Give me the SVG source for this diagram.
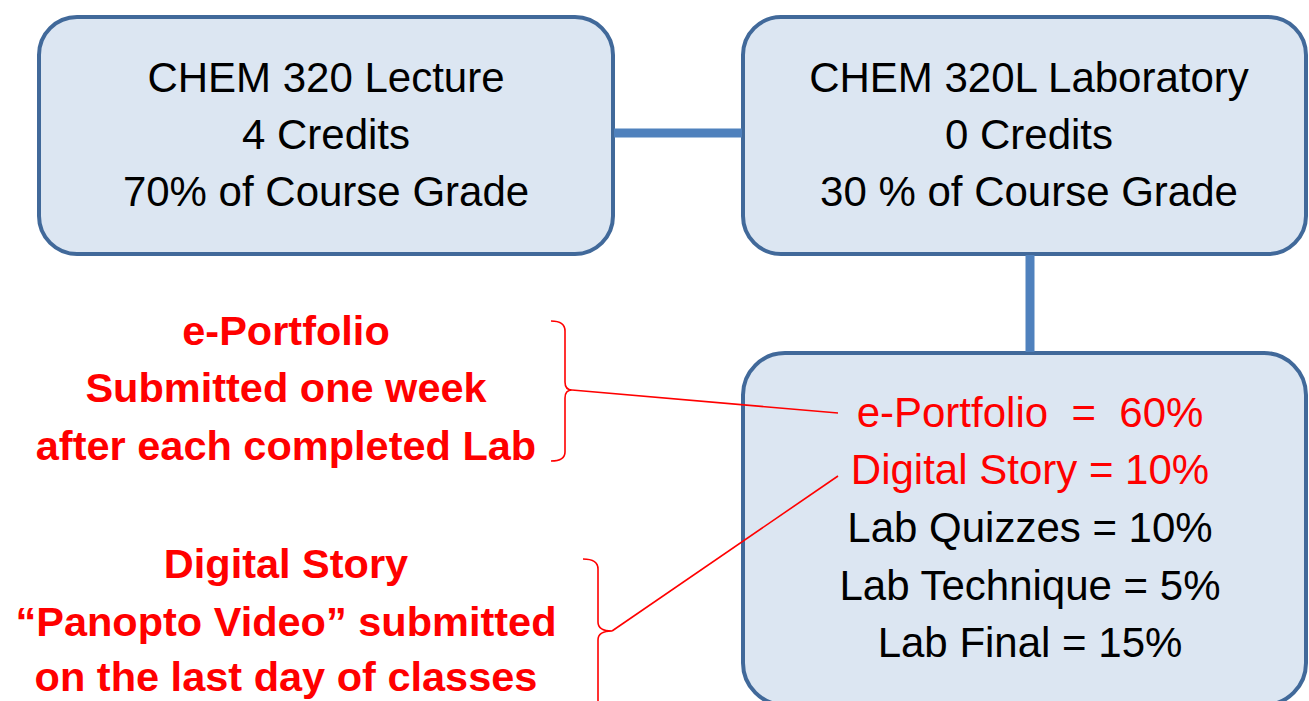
<svg xmlns="http://www.w3.org/2000/svg" width="1309" height="701" viewBox="0 0 1309 701">
  <style>
    .box { fill: #DCE6F2; stroke: #41699A; stroke-width: 4; }
    .link { stroke: #4F81BD; stroke-width: 9; fill: none; }
    .callout { stroke: #FF0000; stroke-width: 1.6; fill: none; }
    .t { font-family: "Liberation Sans", Arial, sans-serif; font-size: 42px; text-anchor: middle; fill: #000; }
    .red { fill: #FF0000; }
    .note { font-family: "Liberation Sans", Arial, sans-serif; font-size: 41.5px; font-weight: bold; text-anchor: middle; fill: #FF0000; }
  </style>
  <rect width="1309" height="701" fill="#FFFFFF"/>

  <g id="lecture">
    <rect class="box" x="39" y="17" width="574" height="237" rx="38"/>
    <text class="t" x="326" y="92">CHEM 320 Lecture</text>
    <text class="t" x="326" y="149">4 Credits</text>
    <text class="t" x="326" y="206">70% of Course Grade</text>
  </g>

  <g id="laboratory">
    <rect class="box" x="743" y="17" width="563" height="237" rx="38"/>
    <text class="t" x="1029" y="92">CHEM 320L Laboratory</text>
    <text class="t" x="1029" y="149">0 Credits</text>
    <text class="t" x="1029" y="206">30 % of Course Grade</text>
  </g>

  <g id="breakdown">
    <rect class="box" x="743" y="353" width="563" height="352" rx="42"/>
    <text class="t red" x="1030" y="427" xml:space="preserve">e-Portfolio  =  60%</text>
    <text class="t red" x="1030" y="484">Digital Story = 10%</text>
    <text class="t" x="1030" y="542">Lab Quizzes = 10%</text>
    <text class="t" x="1030" y="600">Lab Technique = 5%</text>
    <text class="t" x="1030" y="657">Lab Final = 15%</text>
  </g>

  <g id="eportfolio-note">
    <text class="note" x="286" y="345">e-Portfolio</text>
    <text class="note" x="286" y="402">Submitted one week</text>
    <text class="note" x="286" y="460">after each completed Lab</text>
  </g>

  <g id="digital-story-note">
    <text class="note" x="286" y="578">Digital Story</text>
    <text class="note" x="286" y="636">“Panopto Video” submitted</text>
    <text class="note" x="286" y="691">on the last day of classes</text>
  </g>

  <!-- connectors: box links, then brackets with callout lines into the breakdown box -->
  <g id="connectors">
    <line class="link" x1="614" y1="133" x2="742" y2="133"/>
    <line class="link" x1="1030" y1="255" x2="1030" y2="352"/>
    <path class="callout" d="M551,321 Q565,321 565,331 L565,382 Q565,390 572,390 Q565,390 565,398 L565,452 Q565,461 551,461"/>
    <line class="callout" x1="572" y1="390" x2="838" y2="413"/>
    <path class="callout" d="M583,559 Q598,559 598,569 L598,622 Q598,631 612,631 Q598,631 598,640 L598,705"/>
    <line class="callout" x1="612" y1="631" x2="838" y2="476"/>
  </g>
</svg>
